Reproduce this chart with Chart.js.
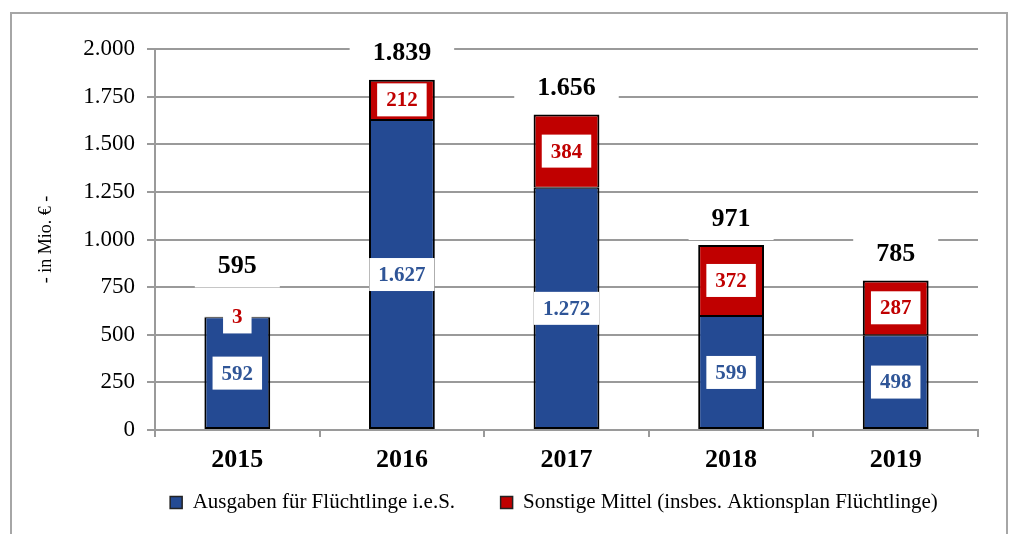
<!DOCTYPE html>
<html lang="de">
<head>
<meta charset="utf-8">
<title>Ausgaben für Flüchtlinge 2015-2019</title>
<script src="https://cdn.jsdelivr.net/npm/chart.js@4.4.1/dist/chart.umd.min.js"></script>
<style>
    html, body { margin: 0; padding: 0; background: #fff; }
    #wrap { position: relative; width: 1012px; height: 534px; }
</style>
</head>
<body>
<div id="wrap"><canvas id="chart"></canvas></div>
<script>
// Werte in Mio. Euro
const years = ['2015', '2016', '2017', '2018', '2019'];
const ausgabenIeS = [592, 1627, 1272, 599, 498];
const sonstigeMittel = [3, 212, 384, 372, 287];
const yTicks = [0, 250, 500, 750, 1000, 1250, 1500, 1750, 2000];

const SERIF = "'Liberation Serif', 'Times New Roman', serif";
const GRID = '#9a9a9a';

const fmt = v => String(v).replace(/\B(?=(\d{3})+(?!\d))/g, '.');

// white boxed labels inside segments + totals above the bars
const labelPlugin = {
    id: 'boxLabels',
    afterDatasetsDraw(chart) {
        const ctx = chart.ctx;
        const segH = 33;
        const lastIdx = chart.data.datasets.length - 1;
        ctx.save();
        ctx.textAlign = 'center';
        ctx.textBaseline = 'middle';

        const segTops = [];
        chart.data.datasets.forEach((ds, di) => {
            const meta = chart.getDatasetMeta(di);
            ctx.font = 'bold 21px ' + SERIF;
            meta.data.forEach((bar, i) => {
                const cy = (bar.y + bar.base) / 2;
                const text = fmt(ds.data[i]);
                const w = ctx.measureText(text).width + 18;
                ctx.fillStyle = '#fff';
                ctx.fillRect(bar.x - w / 2, cy - segH / 2, w, segH);
                ctx.fillStyle = ds.labelColor;
                ctx.fillText(text, bar.x, cy + 1);
                if (di === lastIdx) segTops[i] = cy - segH / 2;
            });
        });

        // totals, pushed up when the top segment label sticks out of the bar
        ctx.font = 'bold 26px ' + SERIF;
        chart.getDatasetMeta(lastIdx).data.forEach((bar, i) => {
            const total = ausgabenIeS[i] + sonstigeMittel[i];
            const cy = segTops[i] < bar.y ? segTops[i] - 35 : bar.y - 27;
            const text = fmt(total);
            const w = ctx.measureText(text).width + 46;
            ctx.fillStyle = '#fff';
            ctx.fillRect(bar.x - w / 2, cy - 22, w, 44);
            ctx.fillStyle = '#000';
            ctx.fillText(text, bar.x, cy + 1);
        });
        ctx.restore();
    }
};

// grey frame around the whole graphic; legend nudged right like the original
const framePlugin = {
    id: 'frame',
    afterLayout(chart) {
        chart.legend.left += 65;
        chart.legend.right += 65;
    },
    beforeDraw(chart) {
        const ctx = chart.ctx;
        ctx.save();
        ctx.fillStyle = '#fff';
        ctx.fillRect(0, 0, chart.width, chart.height);
        ctx.strokeStyle = '#a6a6a6';
        ctx.lineWidth = 2;
        ctx.strokeRect(11, 13, 996, chart.height + 20);
        ctx.restore();
    }
};

const legendGap = '\u00a0'.repeat(6);

new Chart(document.getElementById('chart'), {
    type: 'bar',
    data: {
        labels: years,
        datasets: [
            {
                label: 'Ausgaben für Flüchtlinge i.e.S.',
                data: ausgabenIeS,
                backgroundColor: '#244A93',
                borderColor: '#000',
                borderWidth: { left: 2, right: 2, bottom: 2, top: 1 },
                borderSkipped: false,
                labelColor: '#2F5597'
            },
            {
                label: 'Sonstige Mittel (insbes. Aktionsplan Flüchtlinge)',
                data: sonstigeMittel,
                backgroundColor: '#C00000',
                borderColor: '#000',
                borderWidth: { left: 2, right: 2, bottom: 1, top: 2 },
                borderSkipped: false,
                labelColor: '#C00000'
            }
        ]
    },
    options: {
        responsive: true,
        maintainAspectRatio: false,
        animation: false,
        layout: { padding: { top: 49, right: 34, bottom: 11, left: 0 } },
        datasets: { bar: { categoryPercentage: 1, barPercentage: 0.4 } },
        plugins: {
            tooltip: { enabled: false },
            legend: {
                position: 'bottom',
                labels: {
                    font: { family: SERIF, size: 21 },
                    color: '#000',
                    boxWidth: 12,
                    boxHeight: 12,
                    padding: 14,
                    generateLabels(chart) {
                        const n = chart.data.datasets.length;
                        return chart.data.datasets.map((ds, i) => ({
                            text: ds.label + (i < n - 1 ? legendGap : ''),
                            fillStyle: ds.backgroundColor,
                            strokeStyle: '#222',
                            lineWidth: 1.5,
                            datasetIndex: i
                        }));
                    }
                }
            }
        },
        scales: {
            x: {
                stacked: true,
                grid: { offset: true, drawOnChartArea: false, drawTicks: true, tickLength: 7, color: GRID, lineWidth: 2 },
                border: { color: GRID, width: 2 },
                ticks: {
                    color: '#000',
                    font: { family: SERIF, size: 26, weight: 'bold' },
                    padding: 8,
                    maxRotation: 0
                },
                afterFit(scale) { scale.height = 48; }
            },
            y: {
                stacked: true,
                min: 0,
                max: 2000,
                afterBuildTicks(scale) { scale.ticks = yTicks.map(v => ({ value: v })); },
                grid: { color: GRID, lineWidth: 2, tickLength: 8 },
                border: { color: GRID, width: 2 },
                ticks: {
                    color: '#000',
                    font: { family: SERIF, size: 23 },
                    padding: 12,
                    callback: v => fmt(v)
                },
                title: {
                    display: true,
                    text: '- in Mio. € -',
                    color: '#000',
                    font: { family: SERIF, size: 18 },
                    padding: { top: 35, bottom: 0 }
                },
                afterFit(scale) { scale.width = 155; }
            }
        }
    },
    plugins: [framePlugin, labelPlugin]
});
</script>
</body>
</html>
